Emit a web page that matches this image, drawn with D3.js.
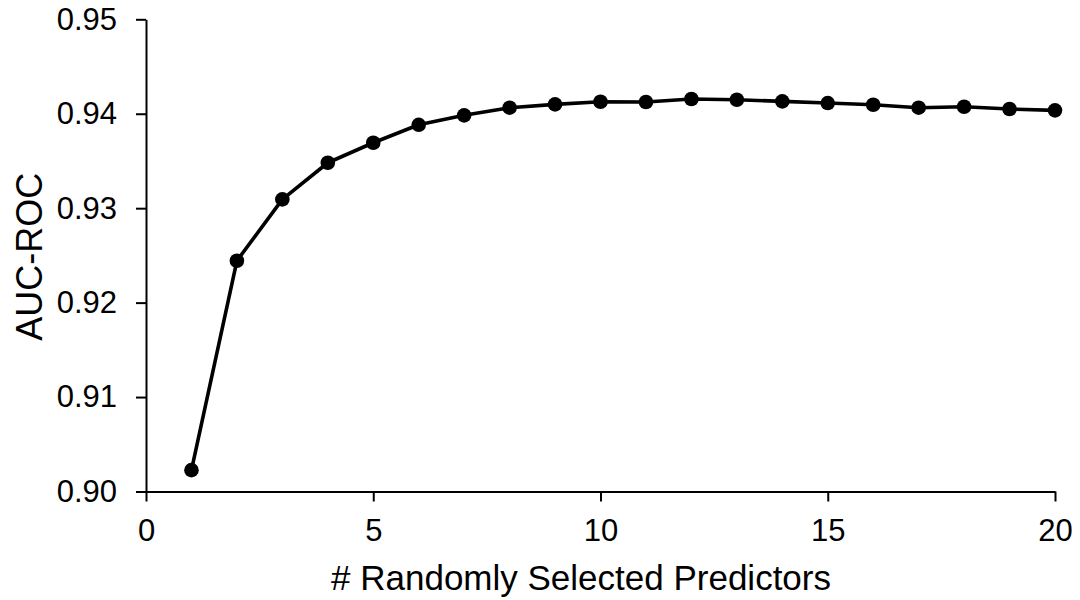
<!DOCTYPE html>
<html><head><meta charset="utf-8">
<script src="https://cdn.jsdelivr.net/npm/d3@7"></script>
<style>html,body{margin:0;padding:0;background:#fff;}svg{display:block;}</style>
</head><body>
<svg id="c" width="1080" height="600"></svg>
<script>
const predictors = [1,2,3,4,5,6,7,8,9,10,11,12,13,14,15,16,17,18,19,20];
const aucRoc = [0.90226,0.92443,0.93093,0.93481,0.93693,0.93883,0.93983,0.94064,0.94099,0.94127,0.94124,0.94156,0.94148,0.94131,0.94113,0.94095,0.94064,0.94074,0.94050,0.94036];
const xTicks = [0,5,10,15,20];
const yTicks = [0.90,0.91,0.92,0.93,0.94,0.95];
const xTitle = "# Randomly Selected Predictors";
const yTitle = "AUC-ROC";

const svg = d3.select("#c");
const font = "'Liberation Sans', Arial, sans-serif";
const x = d3.scaleLinear().domain([0,20]).range([146,1055]);
const y = d3.scaleLinear().domain([0.90,0.95]).range([491.5,19.3]);

const xa = svg.append("g").attr("transform","translate(0,491.5)")
  .call(d3.axisBottom(x).tickValues(xTicks).tickFormat(d3.format("d")).tickSize(10).tickSizeOuter(0).tickPadding(17));
const ya = svg.append("g").attr("transform","translate(146,0)")
  .call(d3.axisLeft(y).tickValues(yTicks).tickFormat(d3.format(".2f")).tickSize(10).tickSizeOuter(0).tickPadding(19));
[xa,ya].forEach(g=>{
  g.select(".domain").attr("stroke","#000").attr("stroke-width",2);
  g.selectAll(".tick line").attr("stroke","#000").attr("stroke-width",2);
  g.selectAll(".tick text").attr("fill","#000").style("font-family",font).style("font-size","31px");
});

const line = d3.line().x((d,i)=>x(predictors[i])).y(d=>y(d));
svg.append("path").datum(aucRoc).attr("d",line).attr("fill","none").attr("stroke","#000").attr("stroke-width",3.6).attr("stroke-linejoin","round");
svg.selectAll("circle.pt").data(aucRoc).enter().append("circle").attr("class","pt")
  .attr("cx",(d,i)=>x(predictors[i])).attr("cy",d=>y(d)).attr("r",7.3).attr("fill","#000");

svg.append("text").attr("x",581).attr("y",590).attr("text-anchor","middle")
  .style("font-family",font).style("font-size","35px").attr("fill","#000").text(xTitle);
svg.append("text").attr("transform","translate(41.5,256.7) rotate(-90)").attr("text-anchor","middle")
  .style("font-family",font).style("font-size","36px").attr("fill","#000").text(yTitle);
</script>
</body></html>
